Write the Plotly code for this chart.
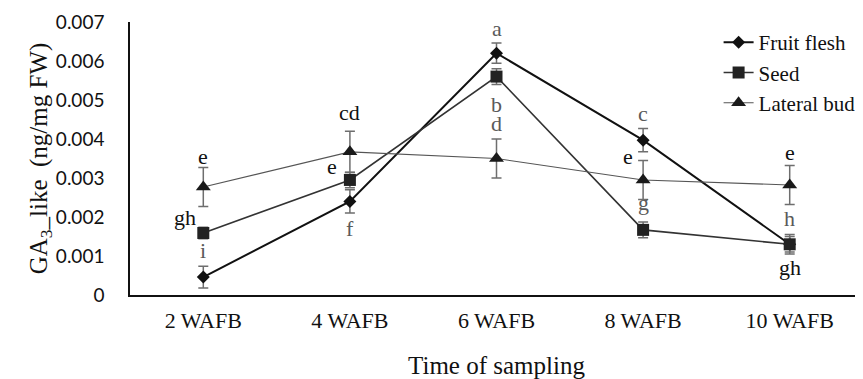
import plotly.graph_objects as go

categories = ["2 WAFB", "4 WAFB", "6 WAFB", "8 WAFB", "10 WAFB"]

fruit_flesh = [0.00046, 0.0024, 0.0062, 0.00397, 0.0013]
fruit_flesh_err = [0.00028, 0.0003, 0.00026, 0.0003, 0.0002]
fruit_flesh_letters = ["i", "f", "a", "c", "gh"]

seed = [0.00159, 0.00295, 0.0056, 0.00167, 0.0013]
seed_err = [0.00015, 0.0002, 0.0002, 0.0002, 0.00025]
seed_letters = ["gh", "e", "b", "g", "h"]

lateral_bud = [0.00277, 0.00367, 0.0035, 0.00295, 0.00282]
lateral_bud_err = [0.0005, 0.00053, 0.0005, 0.0005, 0.0005]
lateral_bud_letters = ["e", "cd", "d", "e", "e"]

y_ticks = [0, 0.001, 0.002, 0.003, 0.004, 0.005, 0.006, 0.007]
y_tick_labels = ["0", "0.001", "0.002", "0.003", "0.004", "0.005", "0.006", "0.007"]

SERIF = "Liberation Serif, Times New Roman, serif"
SANS = "Lato, Liberation Sans, sans-serif"
ERR_COLOR = "#6e6e6e"
GRAY_TXT = "#5a5a5a"
BLACK_TXT = "#111111"

fig = go.Figure()

fig.add_trace(go.Scatter(
    x=categories, y=fruit_flesh, name="Fruit flesh", mode="lines+markers",
    line=dict(color="#111111", width=2),
    marker=dict(symbol="diamond", size=10, color="#111111"),
    error_y=dict(type="data", array=fruit_flesh_err, color=ERR_COLOR, thickness=1.5, width=5),
))
fig.add_trace(go.Scatter(
    x=categories, y=seed, name="Seed", mode="lines+markers",
    line=dict(color="#333333", width=1.6),
    marker=dict(symbol="square", size=12, color="#222222"),
    error_y=dict(type="data", array=seed_err, color=ERR_COLOR, thickness=1.5, width=5),
))
fig.add_trace(go.Scatter(
    x=categories, y=lateral_bud, name="Lateral bud", mode="lines+markers",
    line=dict(color="#555555", width=1.1),
    marker=dict(symbol="triangle-up", size=13, color="#1a1a1a"),
    error_y=dict(type="data", array=lateral_bud_err, color=ERR_COLOR, thickness=1.5, width=5),
))

# letter placement: (yshift up in px, xshift in px, colour) for each point
ff_style = [(27, 0, GRAY_TXT), (-27, 0, GRAY_TXT), (25, 0, GRAY_TXT), (27, 0, GRAY_TXT), (-23, 0, BLACK_TXT)]
seed_style = [(15, -18, BLACK_TXT), (13, -18, BLACK_TXT), (-28, 0, GRAY_TXT), (27, 0, GRAY_TXT), (26, 0, GRAY_TXT)]
lb_style = [(30, 0, BLACK_TXT), (39, 0, BLACK_TXT), (35, 0, GRAY_TXT), (23, -15, BLACK_TXT), (33, 0, BLACK_TXT)]


def add_letters(vals, letters, styles):
    for c, v, t, (ys, xs, col) in zip(categories, vals, letters, styles):
        fig.add_annotation(x=c, y=v, text=t, showarrow=False, xref="x", yref="y",
                           yshift=ys, xshift=xs,
                           font=dict(family=SERIF, size=22, color=col))


add_letters(fruit_flesh, fruit_flesh_letters, ff_style)
add_letters(seed, seed_letters, seed_style)
add_letters(lateral_bud, lateral_bud_letters, lb_style)

# the page body has an 8px margin, so the figure is 8px smaller and margins compensate
fig.update_layout(
    width=855, height=371,
    margin=dict(l=122, r=0, t=14, b=84),
    paper_bgcolor="white", plot_bgcolor="white",
    showlegend=True,
    legend=dict(x=0.803, y=1.0, xanchor="left", yanchor="top",
                font=dict(family=SERIF, size=21, color="#111111"),
                bgcolor="rgba(0,0,0,0)", tracegroupgap=0),
    xaxis=dict(
        range=[-0.5, 4.5], automargin=False,
        showline=True, linecolor="#111111", linewidth=1.5,
        showgrid=False, ticks="", zeroline=False,
        tickfont=dict(family=SERIF, size=22, color="#111111"),
        ticklabelstandoff=5,
        title=dict(text="Time of sampling", font=dict(family=SERIF, size=25, color="#111111"), standoff=30),
    ),
    yaxis=dict(
        range=[0, 0.007], tickvals=y_ticks, ticktext=y_tick_labels, automargin=False,
        showline=True, linecolor="#111111", linewidth=1.5,
        showgrid=False, ticks="", zeroline=False,
        tickfont=dict(family=SANS, size=19, color="#111111"),
        ticklabelstandoff=20,
        title=dict(text="GA<sub>3</sub>_like  (ng/mg FW)", font=dict(family=SERIF, size=25, color="#111111"), standoff=0),
    ),
)

fig.write_html("out.html")
